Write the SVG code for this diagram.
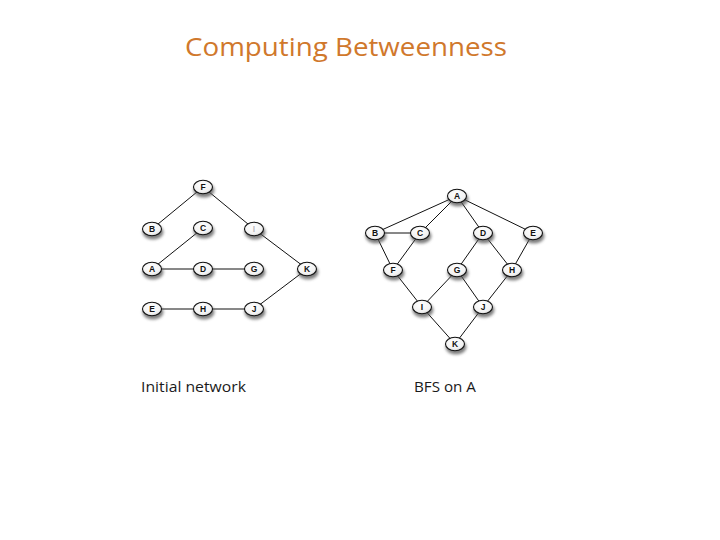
<svg xmlns="http://www.w3.org/2000/svg" width="720" height="540" viewBox="0 0 720 540">
<defs>
<radialGradient id="ng" cx="0.45" cy="0.35" r="0.7">
<stop offset="0" stop-color="#ffffff"/>
<stop offset="0.7" stop-color="#f2f2f2"/>
<stop offset="1" stop-color="#cfcfcf"/>
</radialGradient>
<filter id="sh" x="-50%" y="-50%" width="200%" height="220%">
<feGaussianBlur stdDeviation="1.8"/>
</filter>
<g id="node">
<ellipse cx="1" cy="3" rx="10.5" ry="7.5" fill="#555" opacity="0.75" filter="url(#sh)"/>
<ellipse cx="0" cy="0" rx="9.5" ry="6.8" fill="url(#ng)" stroke="#111" stroke-width="1.1"/>
</g>
</defs>
<style>
.e{stroke:#111;stroke-width:1;fill:none}
.l{font-family:"Liberation Sans",Arial,sans-serif;font-size:8.5px;font-weight:bold;fill:#111;text-anchor:middle}
.cap{font-family:"Open Sans","Noto Sans",sans-serif;font-size:14px;fill:#1a1a1a}
</style>
<rect width="720" height="540" fill="#fff"/>
<text x="346" y="56" font-family="'Open Sans','Noto Sans',sans-serif" font-size="25" fill="#D0782C" text-anchor="middle" textLength="322" lengthAdjust="spacingAndGlyphs">Computing Betweenness</text>
<g id="connectors">
<line class="e" x1="203" y1="187" x2="152" y2="229"/>
<line class="e" x1="203" y1="187" x2="254" y2="229"/>
<line class="e" x1="203" y1="228" x2="152" y2="269"/>
<line class="e" x1="152" y1="269" x2="203" y2="269"/>
<line class="e" x1="203" y1="269" x2="254" y2="269"/>
<line class="e" x1="254" y1="229" x2="307" y2="269"/>
<line class="e" x1="307" y1="269" x2="254" y2="309"/>
<line class="e" x1="152" y1="309" x2="203" y2="309"/>
<line class="e" x1="203" y1="309" x2="254" y2="309"/>
<line class="e" x1="457" y1="196" x2="375" y2="233"/>
<line class="e" x1="457" y1="196" x2="420" y2="233"/>
<line class="e" x1="457" y1="196" x2="483" y2="233"/>
<line class="e" x1="457" y1="196" x2="533" y2="233"/>
<line class="e" x1="375" y1="233" x2="420" y2="233"/>
<line class="e" x1="375" y1="233" x2="393" y2="270"/>
<line class="e" x1="420" y1="233" x2="393" y2="270"/>
<line class="e" x1="483" y1="233" x2="457" y2="270"/>
<line class="e" x1="483" y1="233" x2="512" y2="270"/>
<line class="e" x1="533" y1="233" x2="512" y2="270"/>
<line class="e" x1="393" y1="270" x2="422" y2="307"/>
<line class="e" x1="457" y1="270" x2="422" y2="307"/>
<line class="e" x1="457" y1="270" x2="483" y2="307"/>
<line class="e" x1="512" y1="270" x2="483" y2="307"/>
<line class="e" x1="422" y1="307" x2="455" y2="344"/>
<line class="e" x1="483" y1="307" x2="455" y2="344"/>
</g>
<g id="L-F"><use href="#node" x="203" y="187"/><text class="l" x="203" y="190">F</text></g>
<g id="L-B"><use href="#node" x="152" y="229"/><text class="l" x="152" y="232">B</text></g>
<g id="L-C"><use href="#node" x="203" y="228"/><text class="l" x="203" y="231">C</text></g>
<g id="L-I"><use href="#node" x="254" y="229"/><text class="l" x="254" y="232" style="fill:#bbb">I</text></g>
<g id="L-A"><use href="#node" x="152" y="269"/><text class="l" x="152" y="272">A</text></g>
<g id="L-D"><use href="#node" x="203" y="269"/><text class="l" x="203" y="272">D</text></g>
<g id="L-G"><use href="#node" x="254" y="269"/><text class="l" x="254" y="272">G</text></g>
<g id="L-K"><use href="#node" x="307" y="269"/><text class="l" x="307" y="272">K</text></g>
<g id="L-E"><use href="#node" x="152" y="309"/><text class="l" x="152" y="312">E</text></g>
<g id="L-H"><use href="#node" x="203" y="309"/><text class="l" x="203" y="312">H</text></g>
<g id="L-J"><use href="#node" x="254" y="309"/><text class="l" x="254" y="312">J</text></g>
<g id="R-A"><use href="#node" x="457" y="196"/><text class="l" x="457" y="199">A</text></g>
<g id="R-B"><use href="#node" x="375" y="233"/><text class="l" x="375" y="236">B</text></g>
<g id="R-C"><use href="#node" x="420" y="233"/><text class="l" x="420" y="236">C</text></g>
<g id="R-D"><use href="#node" x="483" y="233"/><text class="l" x="483" y="236">D</text></g>
<g id="R-E"><use href="#node" x="533" y="233"/><text class="l" x="533" y="236">E</text></g>
<g id="R-F"><use href="#node" x="393" y="270"/><text class="l" x="393" y="273">F</text></g>
<g id="R-G"><use href="#node" x="457" y="270"/><text class="l" x="457" y="273">G</text></g>
<g id="R-H"><use href="#node" x="512" y="270"/><text class="l" x="512" y="273">H</text></g>
<g id="R-I"><use href="#node" x="422" y="307"/><text class="l" x="422" y="310">I</text></g>
<g id="R-J"><use href="#node" x="483" y="307"/><text class="l" x="483" y="310">J</text></g>
<g id="R-K"><use href="#node" x="455" y="344"/><text class="l" x="455" y="347">K</text></g>
<text class="cap" x="141" y="392" textLength="105" lengthAdjust="spacingAndGlyphs">Initial network</text>
<text class="cap" x="414" y="392" textLength="62" lengthAdjust="spacingAndGlyphs">BFS on A</text>
</svg>
